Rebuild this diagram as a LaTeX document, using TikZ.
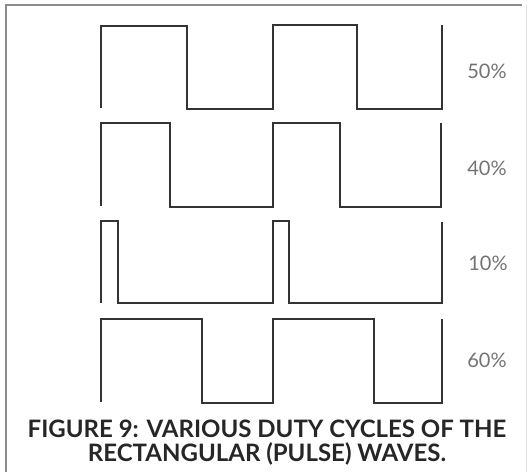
\documentclass[tikz,border=0pt]{standalone}
\usepackage{fontspec}
\setmainfont{Lato}
\begin{document}
\begin{tikzpicture}[x=1pt,y=-1pt,
  wave/.style={draw=black!80, line width=2.6pt, line join=miter},
  frameline/.style={draw=black!45, line width=1.6pt},
  pct/.style={text=black!55, font=\fontsize{20}{22}\selectfont, inner sep=0pt},
  caption/.style={text=black!85, font=\bfseries\fontsize{24}{24}\selectfont, align=center, inner sep=0pt}]
\useasboundingbox (0,0) rectangle (528,472);
% frame
\draw[frameline] (6,472) -- (6,5) -- (522,5);
\draw[draw=black!12, line width=1pt] (526,5) -- (526,472);
% 50%
\draw[wave] (101,108) -- (101,26) -- (187,26) -- (187,109) -- (273,109) -- (273,25) -- (357,25) -- (357,109) -- (442,109) -- (442,25);
% 40%
\draw[wave] (101,206) -- (101,123) -- (170,123) -- (170,207) -- (273,207) -- (273,123) -- (340,123) -- (340,207) -- (441,207) -- (441,123);
% 10%
\draw[wave] (101,303) -- (101,221) -- (118,221) -- (118,303) -- (273,303) -- (273,221) -- (289,221) -- (289,303) -- (442,303) -- (442,222);
% 60%
\draw[wave] (101,402) -- (101,319) -- (202,319) -- (202,403) -- (273,403) -- (273,319) -- (374,319) -- (374,403) -- (442,403) -- (442,319);
% labels
\node[pct] (p50) at (487,71) {50\%};
\node[pct] (p40) at (487,168) {40\%};
\node[pct] (p10) at (488,263) {10\%};
\node[pct] (p60) at (487,360) {60\%};
\node[caption] (cap) at (267,443) {FIGURE 9: VARIOUS DUTY CYCLES OF THE\\RECTANGULAR (PULSE) WAVES.};
\end{tikzpicture}
\end{document}
